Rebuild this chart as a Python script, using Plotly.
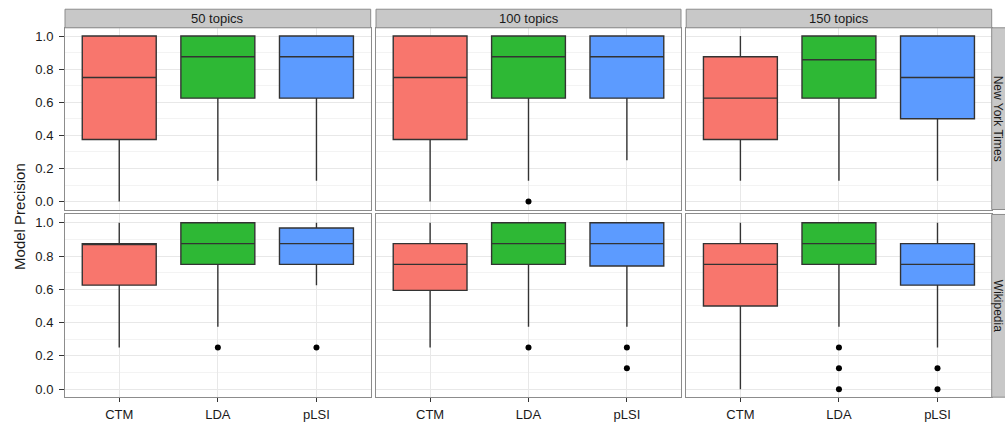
import plotly.graph_objects as go

models = ["CTM", "LDA", "pLSI"]
topics = ["50 topics", "100 topics", "150 topics"]
corpora = ["New York Times", "Wikipedia"]
colors = ["#F8766D", "#2EB835", "#5C9BFF"]

# [topic][model]
nyt_lower = [[0.0, 0.125, 0.125], [0.0, 0.125, 0.25], [0.125, 0.125, 0.125]]
nyt_q1 = [[0.375, 0.625, 0.625], [0.375, 0.625, 0.625], [0.375, 0.625, 0.5]]
nyt_median = [[0.75, 0.875, 0.875], [0.75, 0.875, 0.875], [0.625, 0.857, 0.75]]
nyt_q3 = [[1.0, 1.0, 1.0], [1.0, 1.0, 1.0], [0.875, 1.0, 1.0]]
nyt_upper = [[1.0, 1.0, 1.0], [1.0, 1.0, 1.0], [1.0, 1.0, 1.0]]
nyt_outliers = [[[], [], []], [[], [0.0], []], [[], [], []]]

wiki_lower = [[0.25, 0.375, 0.625], [0.25, 0.375, 0.375], [0.0, 0.375, 0.25]]
wiki_q1 = [[0.625, 0.75, 0.75], [0.594, 0.75, 0.74], [0.5, 0.75, 0.625]]
wiki_median = [[0.875, 0.875, 0.875], [0.75, 0.875, 0.875], [0.75, 0.875, 0.75]]
wiki_q3 = [[0.875, 1.0, 0.969], [0.875, 1.0, 1.0], [0.875, 1.0, 0.875]]
wiki_upper = [[1.0, 1.0, 1.0], [1.0, 1.0, 1.0], [1.0, 1.0, 1.0]]
wiki_outliers = [[[], [0.25], [0.25]], [[], [0.25], [0.25, 0.125]], [[], [0.25, 0.125, 0.0], [0.125, 0.0]]]

y_ticks = [0.0, 0.2, 0.4, 0.6, 0.8, 1.0]
y_minor = [0.1, 0.3, 0.5, 0.7, 0.9]

stats = [
    (nyt_lower, nyt_q1, nyt_median, nyt_q3, nyt_upper, nyt_outliers),
    (wiki_lower, wiki_q1, wiki_median, wiki_q3, wiki_upper, wiki_outliers),
]

W, H = 1005, 422
col_px = [(65, 370.7), (376, 681), (686.2, 991.7)]
row_px = [(28, 211), (216, 400)]
strip_top = (9.3, 28)
strip_right = (991.7, 1012)

FONT = "Liberation Sans, Arial, Helvetica, sans-serif"
TXT = "#1a1a1a"
fig = go.Figure()
layout = dict(
    width=W, height=H, margin=dict(l=0, r=0, t=0, b=0, pad=0),
    paper_bgcolor="white", plot_bgcolor="white", showlegend=False,
    font=dict(family=FONT, size=13, color=TXT),
)
shapes = []
annotations = []

for r in range(2):
    lower, q1, med, q3, upper, outs = stats[r]
    for c in range(3):
        n = r * 3 + c + 1
        xa = "x" if n == 1 else f"x{n}"
        ya = "y" if n == 1 else f"y{n}"
        for m in range(3):
            fig.add_trace(go.Box(
                x=[models[m]], q1=[q1[c][m]], median=[med[c][m]], q3=[q3[c][m]],
                lowerfence=[lower[c][m]], upperfence=[upper[c][m]],
                width=0.75, whiskerwidth=0, fillcolor=colors[m],
                line=dict(color="#333333", width=1.4), boxpoints=False,
                xaxis=xa, yaxis=ya, hoverinfo="skip",
            ))
            if outs[c][m]:
                fig.add_trace(go.Scatter(
                    x=[models[m]] * len(outs[c][m]), y=outs[c][m], mode="markers",
                    marker=dict(color="black", size=6), xaxis=xa, yaxis=ya,
                    hoverinfo="skip",
                ))
        x0, x1 = col_px[c]
        y0, y1 = row_px[r]
        xkey = "xaxis" if n == 1 else f"xaxis{n}"
        ykey = "yaxis" if n == 1 else f"yaxis{n}"
        layout[xkey] = dict(
            domain=[x0 / W, x1 / W], anchor=ya, type="category",
            categoryorder="array", categoryarray=models,
            range=[-0.55, 2.55], showgrid=True, gridcolor="#E8E8E8", gridwidth=1,
            showline=True, linecolor="#8C8C8C", linewidth=1, mirror=True,
            zeroline=False, fixedrange=True,
            showticklabels=(r == 1), ticks="outside" if r == 1 else "",
            ticklen=4, tickcolor="#333333", tickwidth=1, ticklabelstandoff=1,
            tickfont=dict(size=13, color=TXT, family=FONT),
        )
        layout[ykey] = dict(
            domain=[1 - y1 / H, 1 - y0 / H], anchor=xa,
            range=[-0.048, 1.05], tickvals=y_ticks, tickformat=".1f",
            showgrid=True, gridcolor="#E8E8E8", gridwidth=1,
            minor=dict(tickvals=y_minor, showgrid=True, gridcolor="#F3F3F3", gridwidth=1, ticks=""),
            showline=True, linecolor="#8C8C8C", linewidth=1, mirror=True,
            zeroline=False, fixedrange=True,
            showticklabels=(c == 0), ticks="outside" if c == 0 else "",
            ticklen=5, tickcolor="#333333", tickwidth=1, ticklabelstandoff=3,
            tickfont=dict(size=13, color=TXT, family=FONT),
        )

# top strips
for c in range(3):
    x0, x1 = col_px[c]
    shapes.append(dict(type="rect", xref="paper", yref="paper",
                       x0=x0 / W, x1=x1 / W, y0=1 - strip_top[1] / H, y1=1 - strip_top[0] / H,
                       fillcolor="#C8C8C8", line=dict(color="#8C8C8C", width=1), layer="above"))
    annotations.append(dict(text=topics[c], xref="paper", yref="paper",
                            x=(x0 + x1) / 2 / W, y=1 - (strip_top[0] + strip_top[1]) / 2 / H,
                            showarrow=False, xanchor="center", yanchor="middle",
                            font=dict(size=13, color=TXT, family=FONT)))
# right strips
for r in range(2):
    y0, y1 = row_px[r]
    shapes.append(dict(type="rect", xref="paper", yref="paper",
                       x0=strip_right[0] / W, x1=strip_right[1] / W, y0=1 - y1 / H, y1=1 - y0 / H,
                       fillcolor="#C8C8C8", line=dict(color="#8C8C8C", width=1), layer="above"))
    annotations.append(dict(text=corpora[r], xref="paper", yref="paper",
                            x=998 / W, y=1 - (y0 + y1) / 2 / H, textangle=90,
                            showarrow=False, xanchor="center", yanchor="middle",
                            font=dict(size=12, color=TXT, family=FONT)))

annotations.append(dict(text="Model Precision", xref="paper", yref="paper",
                        x=19.5 / W, y=1 - 218 / H, textangle=-90, showarrow=False,
                        xanchor="center", yanchor="middle",
                        font=dict(size=15, color=TXT, family=FONT)))

layout["shapes"] = shapes
layout["annotations"] = annotations
fig.update_layout(**layout)
fig.write_html(
    "out.html",
    config={"displayModeBar": False},
    post_script="document.body.style.margin='0';document.body.style.padding='0';document.body.style.overflow='hidden';",
)
